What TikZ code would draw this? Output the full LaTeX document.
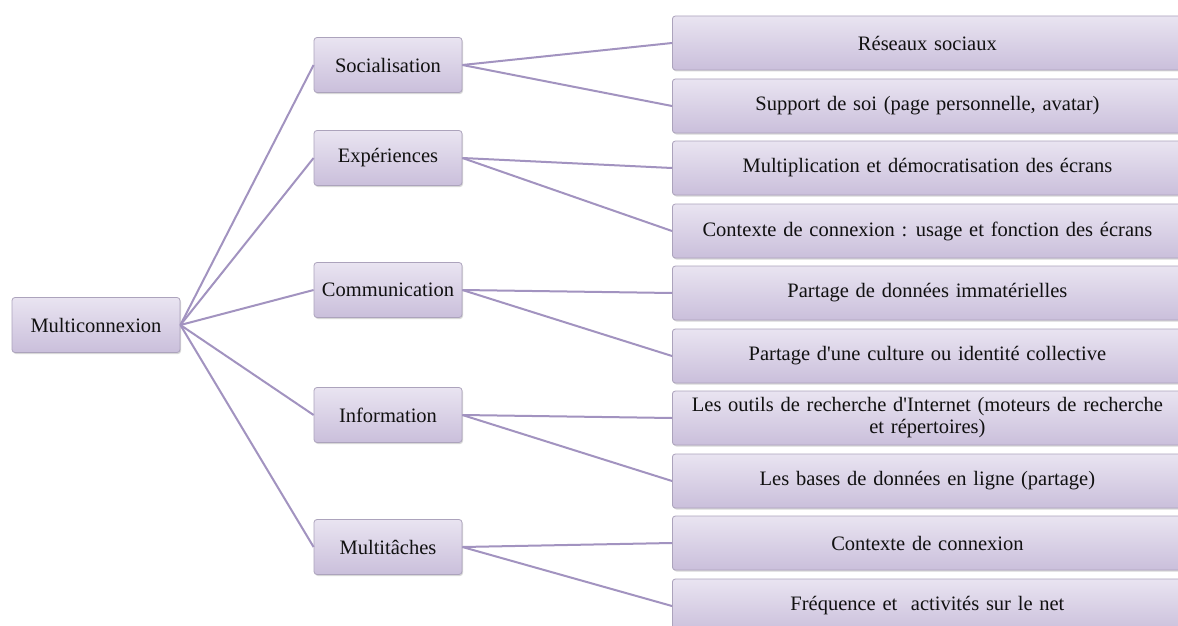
\documentclass[tikz,border=0pt]{standalone}
\usepackage{fontspec}
\defaultfontfeatures[\rmfamily]{}
\setmainfont{Liberation Serif}
\usetikzlibrary{shadows}
\definecolor{boxtop}{HTML}{E9E4F1}
\definecolor{boxbot}{HTML}{CABFDB}
\definecolor{boxborder}{HTML}{ACA3BC}
\definecolor{linkcol}{HTML}{A293C0}
\definecolor{textcol}{HTML}{111111}
\newcommand\myboxfont{\fontsize{20.5}{22}\selectfont\spaceskip=0.33em plus 0.1em\relax}
\begin{document}
\begin{tikzpicture}[x=1pt,y=-1pt,
  box/.style={draw=boxborder, line width=0.8pt, rounded corners=3pt,
    top color=boxtop, bottom color=boxbot,
    drop shadow={shadow xshift=1pt, shadow yshift=-1.5pt, opacity=0.25, fill=black!60},
    font=\myboxfont, align=center, inner sep=2pt, text=textcol},
  rootbox/.style={box, minimum width=168pt, minimum height=55pt},
  midbox/.style={box, minimum width=148pt, minimum height=55pt},
  leafbox/.style={box, minimum width=510pt, minimum height=54pt, anchor=west},
  link/.style={draw=linkcol, line width=2pt}
]
\useasboundingbox (0,0) rectangle (1178,626);
\fill[white] (0,0) rectangle (1178,626);
\clip (0,0) rectangle (1178,626);

\node[rootbox] (root) at (96,325) {Multiconnexion};

\node[midbox] (soc) at (388,65) {Socialisation};
\node[midbox] (exp) at (388,158) {Expériences};
\node[midbox] (com) at (388,290) {Communication};
\node[midbox] (inf) at (388,415) {Information};
\node[midbox] (mul) at (388,547) {Multitâches};

\node[leafbox] (l1) at (672,43) {Réseaux sociaux};
\node[leafbox] (l2) at (672,106) {Support de soi (page personnelle, avatar)};
\node[leafbox] (l3) at (672,168) {Multiplication et démocratisation des écrans};
\node[leafbox] (l4) at (672,231) {Contexte de connexion : usage et fonction des écrans};
\node[leafbox] (l5) at (672,293) {Partage de données immatérielles};
\node[leafbox] (l6) at (672,356) {Partage d'une culture ou identité collective};
\node[leafbox] (l7) at (672,418) {Les outils de recherche d'Internet (moteurs de recherche\\et répertoires)};
\node[leafbox] (l8) at (672,481) {Les bases de données en ligne (partage)};
\node[leafbox] (l9) at (672,543) {Contexte de connexion};
\node[leafbox] (l10) at (672,606) {Fréquence et \ activités sur le net};

\draw[link] (root.east) -- (soc.west);
\draw[link] (root.east) -- (exp.west);
\draw[link] (root.east) -- (com.west);
\draw[link] (root.east) -- (inf.west);
\draw[link] (root.east) -- (mul.west);

\draw[link] (soc.east) -- (l1.west);
\draw[link] (soc.east) -- (l2.west);
\draw[link] (exp.east) -- (l3.west);
\draw[link] (exp.east) -- (l4.west);
\draw[link] (com.east) -- (l5.west);
\draw[link] (com.east) -- (l6.west);
\draw[link] (inf.east) -- (l7.west);
\draw[link] (inf.east) -- (l8.west);
\draw[link] (mul.east) -- (l9.west);
\draw[link] (mul.east) -- (l10.west);
\end{tikzpicture}
\end{document}
